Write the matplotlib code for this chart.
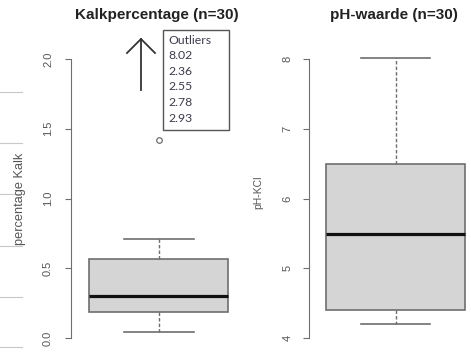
import matplotlib
matplotlib.use("Agg")
import matplotlib.pyplot as plt
from matplotlib.patches import Rectangle

# values
kalk_stats = dict(whislo=0.04, q1=0.19, med=0.30, q3=0.57, whishi=0.71, fliers=[1.42])
ph_stats = dict(whislo=4.2, q1=4.4, med=5.49, q3=6.5, whishi=8.02, fliers=[])
kalk_ticks = [0.0, 0.5, 1.0, 1.5, 2.0]
ph_ticks = [4, 5, 6, 7, 8]
outlier_labels = ["Outliers", "8.02", "2.36", "2.55", "2.78", "2.93"]
titles = ["Kalkpercentage (n=30)", "pH-waarde (n=30)"]
ylabels = ["percentage Kalk", "pH-KCl"]

W, H = 471, 355
plt.rcParams['font.family'] = ['Liberation Sans', 'DejaVu Sans']
fig = plt.figure(figsize=(W / 100, H / 100), dpi=100)
fig.patch.set_facecolor('white')

def px_axes(x0, x1, y0, y1):
    return fig.add_axes([x0 / W, 1 - y1 / H, (x1 - x0) / W, (y1 - y0) / H])

grey = '#6e6e6e'

def draw_box(ax, stats, ticks, ylim, pad):
    ax.bxp([stats], positions=[1], widths=0.8, capwidths=0.4, patch_artist=True,
           boxprops=dict(facecolor='#d5d5d5', edgecolor=grey, lw=1.2),
           medianprops=dict(color='#111111', lw=2.3),
           whiskerprops=dict(color=grey, lw=1, ls=(0, (2.5, 1.5))),
           capprops=dict(color=grey, lw=1.2),
           flierprops=dict(marker='o', mfc='none', mec=grey, ms=4, mew=0.9))
    ax.set_xlim(0.5, 1.5)
    ax.set_ylim(*ylim)
    ax.set_facecolor('none')
    for s in ['top', 'right', 'bottom']:
        ax.spines[s].set_visible(False)
    ax.spines['left'].set_color(grey)
    ax.spines['left'].set_bounds(ticks[0], ticks[-1])
    ax.set_xticks([])
    ax.set_yticks(ticks)
    ax.set_yticklabels([f"{t:g}" if isinstance(t, int) else f"{t:.1f}" for t in ticks],
                       rotation=90, va='center', fontsize=8, color='#555555')
    ax.tick_params(axis='y', length=4.5, color=grey, pad=pad)

ax1 = px_axes(71, 246, 47.8, 349.2)
draw_box(ax1, kalk_stats, kalk_ticks, (-0.08, 2.08), 8.5)
ax2 = px_axes(308.5, 482.5, 47.8, 349.2)
draw_box(ax2, ph_stats, ph_ticks, (3.84, 8.16), 7)

# overlay in pixel coords for the annotations
ov = fig.add_axes([0, 0, 1, 1])
ov.set_xlim(0, W)
ov.set_ylim(H, 0)
ov.axis('off')
ov.set_facecolor('none')

for y in [92, 143, 194, 246, 297, 347]:
    ov.plot([0, 22], [y, y], color='#c8c8c8', lw=0.8)

ov.plot([141, 141], [90, 39], color='#333333', lw=1.3)
ov.plot([127, 141, 155], [53, 39, 53], color='#333333', lw=1.3)

ov.add_patch(Rectangle((163, 30), 66, 100, fill=False, ec='#555555', lw=1))
for i, lab in enumerate(outlier_labels):
    ov.text(168, 40 + i * 15.6, lab, fontsize=8.8, color='#3c3c4c', va='center', ha='left',
            family=['Lato', 'DejaVu Sans'])

ov.text(157, 15, titles[0], fontsize=11, fontweight='bold', ha='center', va='center', color='#222222')
ov.text(394, 15, titles[1], fontsize=11, fontweight='bold', ha='center', va='center', color='#222222')
ov.text(20, 199, ylabels[0], fontsize=9.2, rotation=90, ha='center', va='center', color='#555555')
ov.text(258, 192, ylabels[1], fontsize=7.5, rotation=90, ha='center', va='center', color='#555555')

fig.savefig("out.png", dpi=100)
